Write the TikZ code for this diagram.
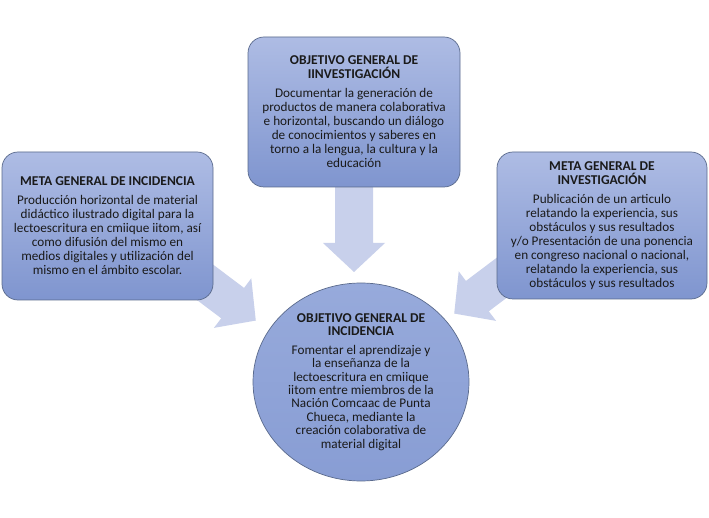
\documentclass[tikz,border=0pt]{standalone}
\usepackage{fontspec}
\setmainfont{Carlito}
\usetikzlibrary{shapes.geometric}
\definecolor{boxtop}{HTML}{AEBCE4}
\definecolor{boxbot}{HTML}{7F95CF}
\definecolor{boxline}{HTML}{5A6A8C}
\definecolor{arrowc}{HTML}{C8D0EB}
\definecolor{circtop}{HTML}{97AADB}
\definecolor{circbot}{HTML}{889DD4}
\definecolor{txt}{HTML}{1A1A1A}
\newcommand{\ttlfont}{\fontsize{13.5}{14}\selectfont\bfseries}
\begin{document}
\begin{tikzpicture}[x=1pt,y=-1pt,
  blockbox/.style={draw=boxline, line width=0.7pt, rounded corners=16pt,
    top color=boxtop, bottom color=boxbot, align=center, text=txt,
    inner sep=0pt, font=\fontsize{13.2}{14}\selectfont},
  roundbox/.style={ellipse, draw=boxline, line width=0.7pt,
    top color=circtop, bottom color=circbot, align=center, text=txt,
    inner sep=0pt, font=\fontsize{13.2}{13.4}\selectfont},
  blockarrow/.style={fill=arrowc, draw=none}]
\useasboundingbox[fill=white] (0,0) rectangle (709,518);

% arrow tails
\coordinate (ta) at (354,187);
\coordinate (tl) at (187.9,269.4);
\coordinate (tr) at (522.1,262.4);

\begin{scope}[shift={(ta)}, rotate=-90]
  \fill[blockarrow] (0,-19) -- (56,-19) -- (56,-31) -- (85,0) -- (56,31) -- (56,19) -- (0,19) -- cycle;
\end{scope}
\begin{scope}[shift={(tl)}, rotate=-37]
  \fill[blockarrow] (0,-19) -- (56,-19) -- (56,-31) -- (85,0) -- (56,31) -- (56,19) -- (0,19) -- cycle;
\end{scope}
\begin{scope}[shift={(tr)}, rotate=-143]
  \fill[blockarrow] (0,-19) -- (56,-19) -- (56,-31) -- (85,0) -- (56,31) -- (56,19) -- (0,19) -- cycle;
\end{scope}

\node[blockbox, minimum width=212pt, minimum height=150pt] (top) at (354,112)
 {{\ttlfont OBJETIVO GENERAL DE}\\{\ttlfont IINVESTIGACIÓN}\\[5pt]
  Documentar la generación de\\productos de manera colaborativa\\e horizontal, buscando un diálogo\\de conocimientos y saberes en\\torno a la lengua, la cultura y la\\educación};

\node[blockbox, minimum width=211pt, minimum height=148pt] (left) at (107.5,226)
 {{\ttlfont META GENERAL DE INCIDENCIA}\\[5pt]
  Producción horizontal de material\\didáctico ilustrado digital para la\\lectoescritura en cmiique iitom, así\\como difusión del mismo en\\medios digitales y utilización del\\mismo en el ámbito escolar.};

\node[blockbox, minimum width=210pt, minimum height=147pt] (right) at (602,225.5)
 {{\ttlfont META GENERAL DE}\\{\ttlfont INVESTIGACIÓN}\\[5pt]
  Publicación de un articulo\\relatando la experiencia, sus\\obstáculos y sus resultados\\y/o Presentación de una ponencia\\en congreso nacional o nacional,\\relatando la experiencia, sus\\obstáculos y sus resultados};

\node[roundbox, minimum width=216pt, minimum height=198pt] (circ) at (361,382)
 {{\ttlfont OBJETIVO GENERAL DE}\\{\ttlfont INCIDENCIA}\\[5pt]
  Fomentar el aprendizaje y\\la enseñanza de la\\lectoescritura en cmiique\\iitom entre miembros de la\\Nación Comcaac de Punta\\Chueca, mediante la\\creación colaborativa de\\material digital};
\end{tikzpicture}
\end{document}
